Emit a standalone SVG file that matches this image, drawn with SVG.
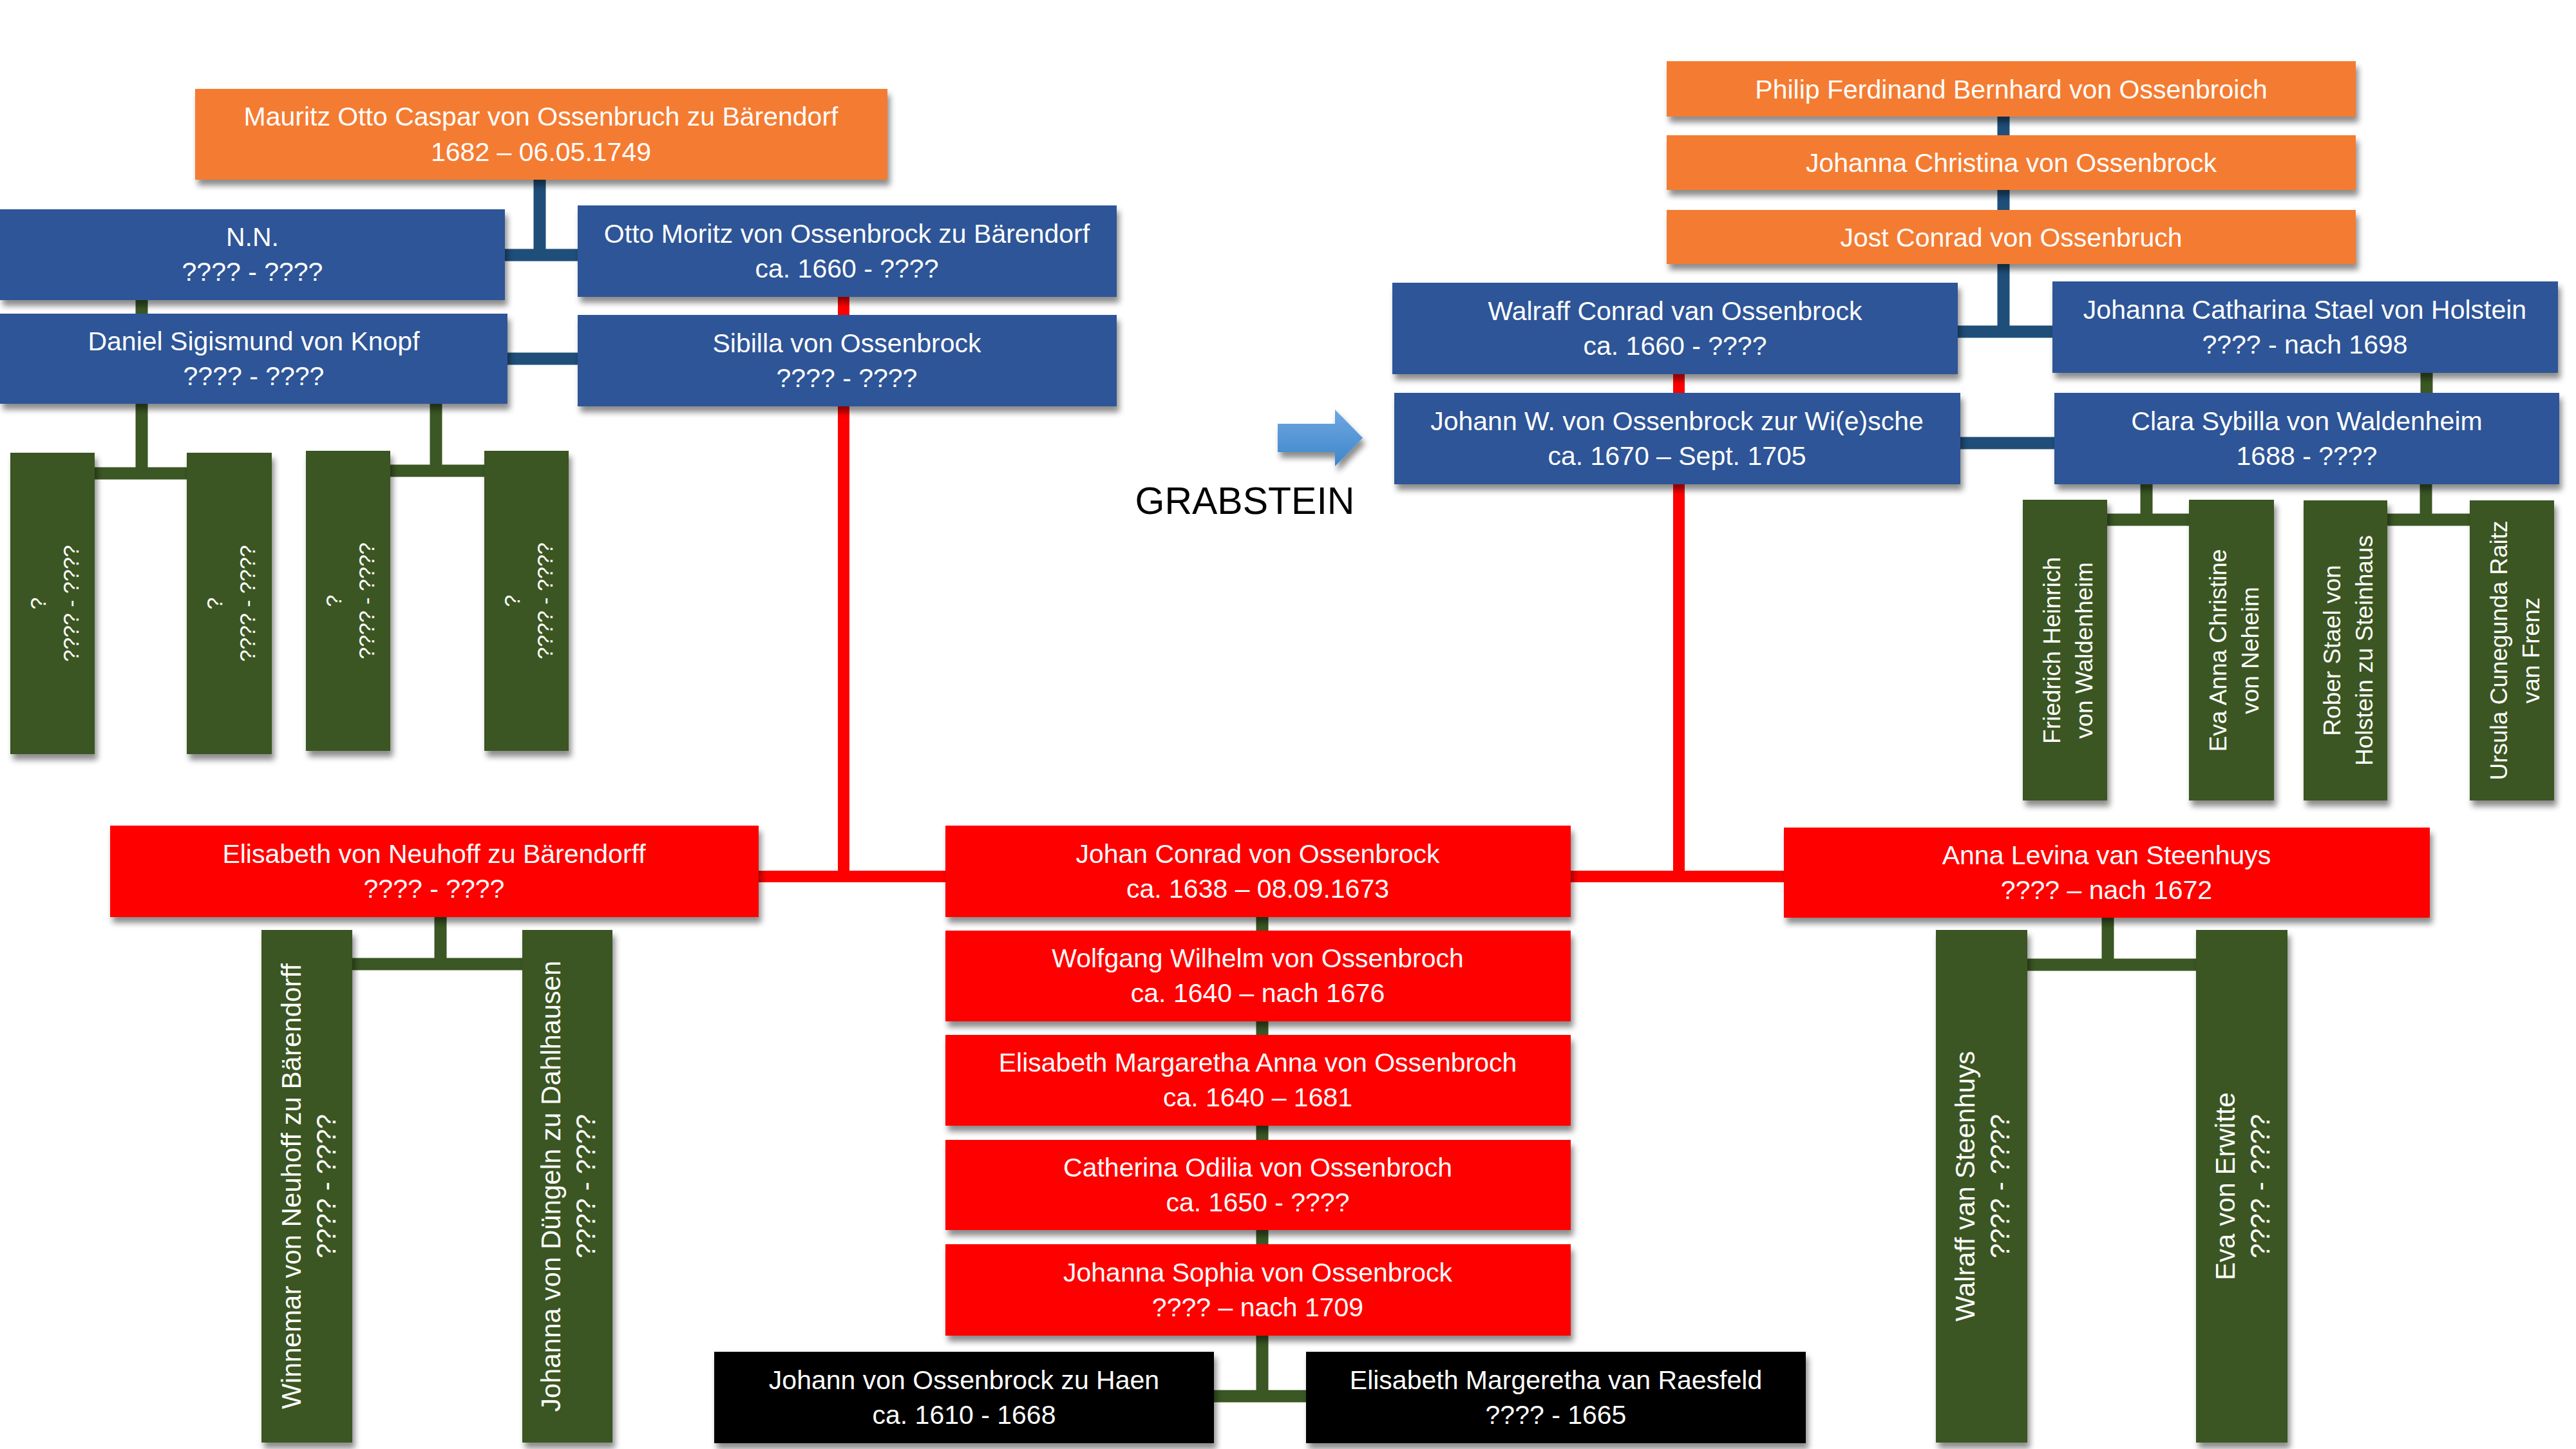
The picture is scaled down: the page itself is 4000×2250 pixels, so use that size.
<svg xmlns="http://www.w3.org/2000/svg" width="4000" height="2250" viewBox="0 0 4000 2250">
<defs>
<filter id="sh" x="-10%" y="-10%" width="120%" height="130%">
<feDropShadow dx="4" dy="9" stdDeviation="5" flood-color="#000" flood-opacity="0.45"/>
</filter>
<linearGradient id="ag" x1="0" y1="0" x2="0" y2="1">
<stop offset="0" stop-color="#6FA8E0"/>
<stop offset="1" stop-color="#3E86CC"/>
</linearGradient>
</defs>
<style>
.o{fill:#F47C30;filter:url(#sh)}
.b{fill:#2F5597;filter:url(#sh)}
.g{fill:#3B5724;filter:url(#sh)}
.r{fill:#FF0000;filter:url(#sh)}
.k{fill:#000000;filter:url(#sh)}
text{font-family:"Liberation Sans",Arial,sans-serif;fill:#FFFFFF;text-anchor:middle}
.t{font-size:41px}
.vs{font-size:34px}
.vm{font-size:37px}
.vl{font-size:42px}
.cb{stroke:#1F4E79;stroke-width:19;fill:none}
.cr{stroke:#FF0000;stroke-width:18;fill:none}
.cg{stroke:#3A5724;stroke-width:19;fill:none}
</style>
<rect width="4000" height="2250" fill="#FFFFFF"/>
<g id="connectors">
<path class="cb" d="M838,279 V396 M784,396 H897 M788,557 H897"/>
<path class="cg" d="M220,466 V487"/>
<path class="cg" d="M220,627 V735 M147,735 H290 M677,627 V731 M606,731 H752"/>
<path class="cr" d="M1310,461 V489 M1310,631 V1361 M1178,1361 H1468"/>
<path class="cb" d="M3111,181 V515 M3040,515 H3187 M3044,688 H3190"/>
<path class="cr" d="M2607,581 V610 M2607,752 V1361 M2439,1361 H2770"/>
<path class="cg" d="M3768,579 V610 M3333,752 V807 M3272,807 H3399 M3767,752 V807 M3707,807 H3835"/>
<path class="cg" d="M684,1424 V1497 M547,1497 H811"/>
<path class="cg" d="M1960,1424 V2168 M1885,2168 H2028"/>
<path class="cg" d="M3273,1425 V1498 M3148,1498 H3410"/>
</g>
<g id="n-mauritz"><rect class="o" x="303" y="138" width="1075" height="141"/>
<text class="t"><tspan x="840" y="195">Mauritz Otto Caspar von Ossenbruch zu Bärendorf</tspan><tspan x="840" y="250">1682 – 06.05.1749</tspan></text></g>
<g id="n-nn"><rect class="b" x="0" y="325" width="784" height="141"/>
<text class="t"><tspan x="392" y="382">N.N.</tspan><tspan x="392" y="436">???? - ????</tspan></text></g>
<g id="n-otto"><rect class="b" x="897" y="319" width="837" height="142"/>
<text class="t"><tspan x="1315" y="377">Otto Moritz von Ossenbrock zu Bärendorf</tspan><tspan x="1315" y="431">ca. 1660 - ????</tspan></text></g>
<g id="n-daniel"><rect class="b" x="0" y="487" width="788" height="140"/>
<text class="t"><tspan x="394" y="544">Daniel Sigismund von Knopf</tspan><tspan x="394" y="598">???? - ????</tspan></text></g>
<g id="n-sibilla"><rect class="b" x="897" y="489" width="837" height="142"/>
<text class="t"><tspan x="1315" y="547">Sibilla von Ossenbrock</tspan><tspan x="1315" y="601">???? - ????</tspan></text></g>
<g id="n-k1"><rect class="g" x="16" y="703" width="131" height="468"/>
<text class="vs" transform="translate(81.5,937) rotate(-90)"><tspan x="0" y="-11">?</tspan><tspan x="0" y="40">???? - ????</tspan></text></g>
<g id="n-k2"><rect class="g" x="290" y="703" width="132" height="468"/>
<text class="vs" transform="translate(356,937) rotate(-90)"><tspan x="0" y="-11">?</tspan><tspan x="0" y="40">???? - ????</tspan></text></g>
<g id="n-k3"><rect class="g" x="475" y="700" width="131" height="466"/>
<text class="vs" transform="translate(540.5,933) rotate(-90)"><tspan x="0" y="-11">?</tspan><tspan x="0" y="40">???? - ????</tspan></text></g>
<g id="n-k4"><rect class="g" x="752" y="700" width="131" height="466"/>
<text class="vs" transform="translate(817.5,933) rotate(-90)"><tspan x="0" y="-11">?</tspan><tspan x="0" y="40">???? - ????</tspan></text></g>
<g id="n-philip"><rect class="o" x="2588" y="95" width="1070" height="86"/>
<text class="t" x="3123" y="153">Philip Ferdinand Bernhard von Ossenbroich</text></g>
<g id="n-johannachristina"><rect class="o" x="2588" y="210" width="1070" height="85"/>
<text class="t" x="3123" y="267">Johanna Christina von Ossenbrock</text></g>
<g id="n-jost"><rect class="o" x="2588" y="326" width="1070" height="84"/>
<text class="t" x="3123" y="383">Jost Conrad von Ossenbruch</text></g>
<g id="n-walraffconrad"><rect class="b" x="2162" y="439" width="878" height="142"/>
<text class="t"><tspan x="2601" y="497">Walraff Conrad van Ossenbrock</tspan><tspan x="2601" y="551">ca. 1660 - ????</tspan></text></g>
<g id="n-johannacatharina"><rect class="b" x="3187" y="437" width="785" height="142"/>
<text class="t"><tspan x="3579" y="495">Johanna Catharina Stael von Holstein</tspan><tspan x="3579" y="549">???? - nach 1698</tspan></text></g>
<g id="n-johannw"><rect class="b" x="2165" y="610" width="879" height="142"/>
<text class="t"><tspan x="2604" y="668">Johann W. von Ossenbrock zur Wi(e)sche</tspan><tspan x="2604" y="722">ca. 1670 – Sept. 1705</tspan></text></g>
<g id="n-clara"><rect class="b" x="3190" y="610" width="784" height="142"/>
<text class="t"><tspan x="3582" y="668">Clara Sybilla von Waldenheim</tspan><tspan x="3582" y="722">1688 - ????</tspan></text></g>
<g id="n-friedrich"><rect class="g" x="3141" y="776" width="131" height="467"/>
<text class="vm" transform="translate(3206.5,1010) rotate(-90)"><tspan x="0" y="-8">Friedrich Heinrich</tspan><tspan x="0" y="42">von Waldenheim</tspan></text></g>
<g id="n-eva-anna"><rect class="g" x="3399" y="776" width="132" height="467"/>
<text class="vm" transform="translate(3465,1010) rotate(-90)"><tspan x="0" y="-8">Eva Anna Christine</tspan><tspan x="0" y="42">von Neheim</tspan></text></g>
<g id="n-rober"><rect class="g" x="3577" y="777" width="130" height="466"/>
<text class="vm" transform="translate(3642,1010) rotate(-90)"><tspan x="0" y="-8">Rober Stael von</tspan><tspan x="0" y="42">Holstein zu Steinhaus</tspan></text></g>
<g id="n-ursula"><rect class="g" x="3835" y="777" width="131" height="466"/>
<text class="vm" transform="translate(3900.5,1010) rotate(-90)"><tspan x="0" y="-8">Ursula Cunegunda Raitz</tspan><tspan x="0" y="42">van Frenz</tspan></text></g>
<g id="n-elisabethneuhoff"><rect class="r" x="171" y="1282" width="1007" height="142"/>
<text class="t"><tspan x="674" y="1340">Elisabeth von Neuhoff zu Bärendorff</tspan><tspan x="674" y="1394">???? - ????</tspan></text></g>
<g id="n-winnemar"><rect class="g" x="406" y="1444" width="141" height="796"/>
<text class="vl" transform="translate(476.5,1842) rotate(-90)"><tspan x="0" y="-10">Winnemar von Neuhoff zu Bärendorff</tspan><tspan x="0" y="44">???? - ????</tspan></text></g>
<g id="n-johannadungeln"><rect class="g" x="811" y="1444" width="140" height="796"/>
<text class="vl" transform="translate(881,1842) rotate(-90)"><tspan x="0" y="-11">Johanna von Düngeln zu Dahlhausen</tspan><tspan x="0" y="43">???? - ????</tspan></text></g>
<g id="n-johanconrad"><rect class="r" x="1468" y="1282" width="971" height="142"/>
<text class="t"><tspan x="1953" y="1340">Johan Conrad von Ossenbrock</tspan><tspan x="1953" y="1394">ca. 1638 – 08.09.1673</tspan></text></g>
<g id="n-wolfgang"><rect class="r" x="1468" y="1445" width="971" height="141"/>
<text class="t"><tspan x="1953" y="1502">Wolfgang Wilhelm von Ossenbroch</tspan><tspan x="1953" y="1556">ca. 1640 – nach 1676</tspan></text></g>
<g id="n-elisabethmargaretha"><rect class="r" x="1468" y="1607" width="971" height="141"/>
<text class="t"><tspan x="1953" y="1664">Elisabeth Margaretha Anna von Ossenbroch</tspan><tspan x="1953" y="1718">ca. 1640 – 1681</tspan></text></g>
<g id="n-catherina"><rect class="r" x="1468" y="1770" width="971" height="140"/>
<text class="t"><tspan x="1953" y="1827">Catherina Odilia von Ossenbroch</tspan><tspan x="1953" y="1881">ca. 1650 - ????</tspan></text></g>
<g id="n-johannasophia"><rect class="r" x="1468" y="1932" width="971" height="142"/>
<text class="t"><tspan x="1953" y="1990">Johanna Sophia von Ossenbrock</tspan><tspan x="1953" y="2044">???? – nach 1709</tspan></text></g>
<g id="n-johannhaen"><rect class="k" x="1109" y="2099" width="776" height="142"/>
<text class="t"><tspan x="1497" y="2157">Johann von Ossenbrock zu Haen</tspan><tspan x="1497" y="2211">ca. 1610 - 1668</tspan></text></g>
<g id="n-raesfeld"><rect class="k" x="2028" y="2099" width="776" height="142"/>
<text class="t"><tspan x="2416" y="2157">Elisabeth Margeretha van Raesfeld</tspan><tspan x="2416" y="2211">???? - 1665</tspan></text></g>
<g id="n-annalevina"><rect class="r" x="2770" y="1285" width="1003" height="140"/>
<text class="t"><tspan x="3271" y="1342">Anna Levina van Steenhuys</tspan><tspan x="3271" y="1396">???? – nach 1672</tspan></text></g>
<g id="n-walraffsteenhuys"><rect class="g" x="3006" y="1444" width="142" height="796"/>
<text class="vl" transform="translate(3077,1842) rotate(-90)"><tspan x="0" y="-11">Walraff van Steenhuys</tspan><tspan x="0" y="43">???? - ????</tspan></text></g>
<g id="n-evaerwitte"><rect class="g" x="3410" y="1444" width="142" height="796"/>
<text class="vl" transform="translate(3481,1842) rotate(-90)"><tspan x="0" y="-11">Eva von Erwitte</tspan><tspan x="0" y="43">???? - ????</tspan></text></g>
<g id="grabstein">
<polygon points="1984,658 2073,658 2073,636 2116,680 2073,724 2073,702 1984,702" fill="url(#ag)" filter="url(#sh)"/>
<text x="1933" y="798" style="font-size:59px;fill:#000000">GRABSTEIN</text>
</g>
</svg>
